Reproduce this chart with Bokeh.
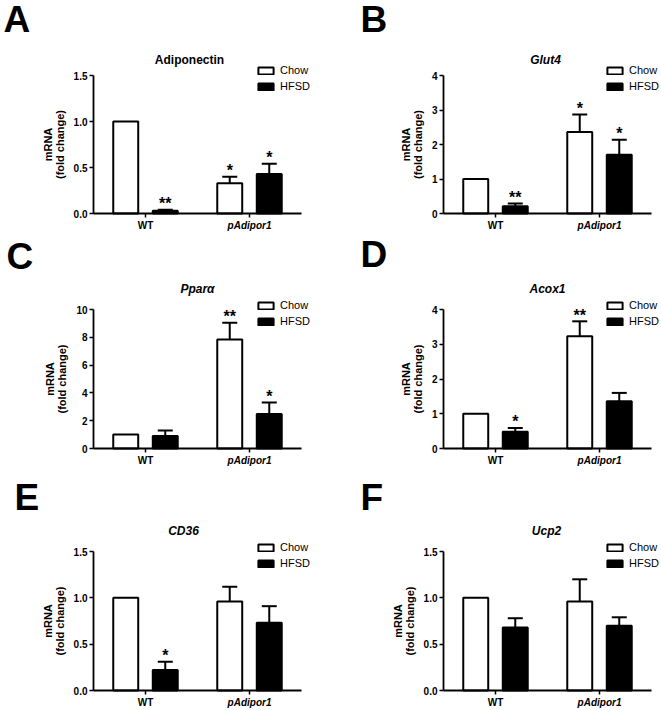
from bokeh.plotting import figure
from bokeh.models import (Range1d, ColumnDataSource, Whisker, TeeHead, Label,
                          Legend, LegendItem, FixedTicker, PrintfTickFormatter)
from bokeh.transform import dodge
from bokeh.layouts import column, row
from bokeh.embed import file_html
from bokeh.resources import INLINE
from bokeh.core.properties import value

# ---------------- data ----------------
groups = ["WT", "pAdipor1"]
series_names = ["Chow", "HFSD"]
panel_letters = ["A", "B", "C", "D", "E", "F"]
genes = ["Adiponectin", "Glut4", "Pparα", "Acox1", "CD36", "Ucp2"]
gene_italic = [False, True, True, True, True, True]

y_max = [1.5, 4, 10, 4, 1.5, 1.5]
y_ticks = [[0, 0.5, 1.0, 1.5], [0, 1, 2, 3, 4], [0, 2, 4, 6, 8, 10],
           [0, 1, 2, 3, 4], [0, 0.5, 1.0, 1.5], [0, 0.5, 1.0, 1.5]]
y_fmt = ["%.1f", "%d", "%d", "%d", "%.1f", "%.1f"]

chow_mean = [[1.00, 0.33], [1.00, 2.36], [1.00, 7.85], [1.00, 3.23], [1.00, 0.96], [1.00, 0.96]]
chow_sem = [[0, 0.07], [0, 0.51], [0, 1.19], [0, 0.43], [0, 0.16], [0, 0.24]]
hfsd_mean = [[0.03, 0.43], [0.21, 1.70], [0.90, 2.49], [0.48, 1.36], [0.22, 0.73], [0.68, 0.70]]
hfsd_sem = [[0.01, 0.11], [0.08, 0.44], [0.40, 0.82], [0.11, 0.24], [0.09, 0.18], [0.10, 0.09]]
chow_star = [["", "*"], ["", "*"], ["", "**"], ["", "**"], ["", ""], ["", ""]]
hfsd_star = [["**", "*"], ["**", "*"], ["", "*"], ["*", ""], ["*", ""], ["", ""]]

# ---------------- layout / style (pixels) ----------------
FONT = "Liberation Sans"
GROUP_PX = 104                      # pixels per category
col_geom = [(330, 93), (331, 113)]  # (canvas width, y-axis x position)
row_geom = [(235, 75, 213), (235, 74, 213), (240, 81, 220)]  # (height, top tick y, zero y)
title_pos = [(189, 176), (215, 176), (197, 182), (217, 182), (183, 180), (216, 180)]
letter_pos = [(3, 216), (30, 216), (6, 214), (30, 216), (14, 213), (30, 213)]
legend_pos = [(256, 141), (275, 141), (256, 141), (275, 141), (256, 139), (275, 139)]
OFF = 0.19
BAR_W = 0.24


def make_panel(i):
    r, c = divmod(i, 2)
    W, ax_x = col_geom[c]
    H, top_y, zero_y = row_geom[r]
    ymax = y_max[i]
    n = len(groups)
    sy = (zero_y - top_y) / ymax
    x_range = Range1d(-ax_x / GROUP_PX, (W - ax_x) / GROUP_PX)
    y_range = Range1d(-(H - zero_y) / sy, ymax + top_y / sy)

    p = figure(width=W, height=H, x_range=x_range, y_range=y_range,
               output_backend="svg", toolbar_location=None, title=None, min_border=0)
    p.min_border_left = p.min_border_right = p.min_border_top = p.min_border_bottom = 0
    p.outline_line_color = None
    p.grid.visible = False
    p.background_fill_color = "white"
    p.border_fill_color = "white"

    src = ColumnDataSource(dict(
        group=groups,
        xc=[k + 0.5 for k in range(n)],
        chow=chow_mean[i], hfsd=hfsd_mean[i],
    ))

    rc = p.vbar(x=dodge("xc", -OFF), top="chow", width=BAR_W,
                fill_color="white", line_color="black", line_width=2, source=src)
    rh = p.vbar(x=dodge("xc", OFF), top="hfsd", width=BAR_W,
                fill_color="black", line_color="black", line_width=2, source=src)

    for off, mean, sem, stars in ((-OFF, chow_mean[i], chow_sem[i], chow_star[i]),
                                  (OFF, hfsd_mean[i], hfsd_sem[i], hfsd_star[i])):
        idx = [k for k in range(n) if sem[k] > 0]
        wsrc = ColumnDataSource(dict(xc=[k + 0.5 for k in idx],
                                     lower=[mean[k] for k in idx],
                                     upper=[mean[k] + sem[k] for k in idx]))
        w = Whisker(source=wsrc, base=dodge("xc", off),
                    lower="lower", upper="upper", dimension="height",
                    line_width=2, line_color="black",
                    upper_head=TeeHead(size=15, line_width=2, line_color="black"),
                    lower_head=None, level="overlay")
        p.add_layout(w)

        sidx = [k for k in range(n) if stars[k]]
        if sidx:
            ssrc = ColumnDataSource(dict(xc=[k + 0.5 for k in sidx],
                                         up=[mean[k] + sem[k] for k in sidx],
                                         star=[stars[k] for k in sidx]))
            p.text(x=dodge("xc", off), y="up", text="star", source=ssrc,
                   text_align="center", text_baseline="alphabetic", y_offset=-6,
                   text_font=value(FONT), text_font_size="16px", text_font_style="bold",
                   text_color="black")

    # axes, pinned at the data origin
    p.yaxis.fixed_location = 0
    p.xaxis.fixed_location = 0
    p.yaxis.bounds = (0, ymax)
    p.xaxis.bounds = (0, n)
    p.yaxis.ticker = FixedTicker(ticks=y_ticks[i], minor_ticks=[])
    p.xaxis.ticker = FixedTicker(ticks=[k + 0.5 for k in range(n)], minor_ticks=[])
    p.yaxis.formatter = PrintfTickFormatter(format=y_fmt[i])
    p.yaxis.axis_label = "mRNA\n(fold change)"
    for ax in (p.xaxis[0], p.yaxis[0]):
        ax.axis_line_width = 1.8
        ax.axis_line_color = "black"
        ax.major_tick_line_width = 1.5
        ax.major_tick_line_color = "black"
        ax.major_tick_out = 4
        ax.major_tick_in = 0
        ax.minor_tick_line_color = None
        ax.major_label_text_font = FONT
        ax.major_label_text_font_style = "bold"
        ax.major_label_text_font_size = "10px"
        ax.major_label_text_color = "black"
    p.xaxis.major_label_text_color = None   # group names are drawn as labels below
    p.yaxis.major_label_standoff = 2
    p.yaxis.axis_label_text_font = FONT
    p.yaxis.axis_label_text_font_style = "bold"
    p.yaxis.axis_label_text_font_size = "11px"
    p.yaxis.axis_label_text_line_height = 1.0
    p.yaxis.axis_label_standoff = 5
    p.yaxis.axis_label_text_color = "black"

    # group labels under the x axis
    for k, g in enumerate(groups):
        p.add_layout(Label(x=k + 0.5, y=0, x_units="data", y_units="data", y_offset=-12,
                           text=g, text_align="center", text_baseline="alphabetic",
                           text_font=FONT, text_font_size="10px",
                           text_font_style="bold" if g == "WT" else "bold italic",
                           text_color="black"))

    # gene title
    tx, ty = title_pos[i]
    p.add_layout(Label(x=tx, y=ty, x_units="screen", y_units="screen",
                       text=genes[i], text_align="center", text_baseline="alphabetic",
                       text_font=FONT, text_font_size="12px",
                       text_font_style="bold italic" if gene_italic[i] else "bold",
                       text_color="black"))
    # panel letter
    lx, ly = letter_pos[i]
    p.add_layout(Label(x=lx, y=ly, x_units="screen", y_units="screen", text=panel_letters[i],
                       text_align="left", text_baseline="alphabetic",
                       text_font=FONT, text_font_size="37px", text_font_style="bold",
                       text_color="black"))

    legend = Legend(items=[LegendItem(label=series_names[0], renderers=[rc]),
                           LegendItem(label=series_names[1], renderers=[rh])],
                    location=legend_pos[i],
                    padding=0, margin=0, spacing=0, label_height=16,
                    glyph_width=19, glyph_height=9, label_standoff=5,
                    border_line_color=None, background_fill_alpha=0,
                    label_text_font=FONT, label_text_font_size="11px",
                    label_text_color="black")
    p.add_layout(legend)
    return p


panels = [make_panel(i) for i in range(6)]
layout = column(row(panels[0], panels[1]), row(panels[2], panels[3]), row(panels[4], panels[5]))
open("out.html", "w").write(file_html(layout, INLINE))
